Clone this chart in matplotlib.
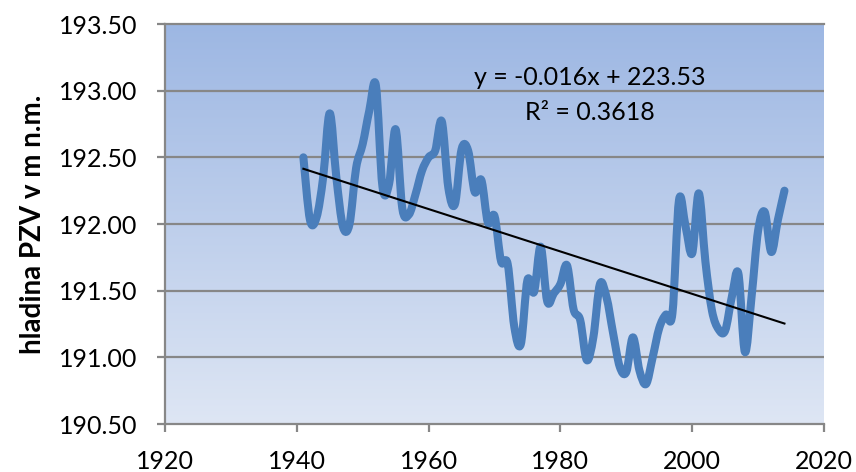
import numpy as np
import matplotlib
matplotlib.use("Agg")
import matplotlib.pyplot as plt
from matplotlib.path import Path
from matplotlib.patches import PathPatch
from matplotlib.colors import LinearSegmentedColormap

plt.rcParams['font.family'] = ['Lato', 'DejaVu Sans']

years = list(range(1941, 2015))
levels = [
    192.50, 192.03, 192.05, 192.35, 192.83, 192.35, 191.98, 192.00, 192.42, 192.60,
    192.85, 193.04, 192.28, 192.30, 192.71, 192.12, 192.07, 192.22, 192.40, 192.50,
    192.55, 192.77, 192.27, 192.15, 192.56, 192.55, 192.24, 192.33, 192.01, 192.06,
    191.72, 191.70, 191.23, 191.10, 191.58, 191.49, 191.83, 191.42, 191.48, 191.55,
    191.69, 191.36, 191.28, 190.98, 191.15, 191.55, 191.45, 191.18, 190.93, 190.89,
    191.15, 190.90, 190.80, 191.00, 191.22, 191.32, 191.33, 192.18, 191.98, 191.78,
    192.23, 191.72, 191.35, 191.21, 191.20, 191.45, 191.63, 191.04, 191.45, 191.95,
    192.09, 191.79, 192.03, 192.25,
]
x_ticks = [1920, 1940, 1960, 1980, 2000, 2020]
y_ticks = [190.5, 191.0, 191.5, 192.0, 192.5, 193.0, 193.5]
y_label = "hladina PZV v m n.m."
equation = "y = -0.016x + 223.53"
r2_text = "R² = 0.3618"

fig = plt.figure(figsize=(8.56, 4.72), dpi=100)
ax = fig.add_axes([165/856, 1-424/472, (824-165)/856, 400/472])
ax.set_xlim(1920, 2020)
ax.set_ylim(190.5, 193.5)

# gradient background
cmap = LinearSegmentedColormap.from_list("bg", ["#dee6f4", "#9db7e3"])
grad = np.linspace(0, 1, 256).reshape(-1, 1)
ax.imshow(grad, cmap=cmap, aspect='auto', extent=[1920, 2020, 190.5, 193.5],
          origin='lower', zorder=0)

grid_c = "#878787"
for yt in y_ticks[1:-1]:
    ax.axhline(yt, color=grid_c, lw=1.6, zorder=1)
for s in ['left', 'bottom', 'top']:
    ax.spines[s].set_color(grid_c)
    ax.spines[s].set_linewidth(1.6)
ax.spines['right'].set_visible(False)

# smoothed line (Excel-like Bezier through annual points)
xs = np.array(years, dtype=float)
ys = np.array(levels, dtype=float)
n = len(xs)
verts = [(xs[0], ys[0])]
codes = [Path.MOVETO]
for i in range(n - 1):
    p0 = np.array([xs[max(i-1, 0)], ys[max(i-1, 0)]])
    p1 = np.array([xs[i], ys[i]])
    p2 = np.array([xs[i+1], ys[i+1]])
    p3 = np.array([xs[min(i+2, n-1)], ys[min(i+2, n-1)]])
    c1 = p1 + (p2 - p0) / 6.0
    c2 = p2 - (p3 - p1) / 6.0
    verts += [tuple(c1), tuple(c2), tuple(p2)]
    codes += [Path.CURVE4] * 3
patch = PathPatch(Path(verts, codes), facecolor='none', edgecolor='#4a7ebb',
                  lw=5.8, capstyle='round', joinstyle='round', zorder=3)
ax.add_patch(patch)

# linear trendline
k, q = np.polyfit(xs, ys, 1)
tx = np.array([xs[0], xs[-1]])
ax.plot(tx, k * tx + q, color='black', lw=1.5, zorder=4)

ax.text(1984.5, 193.10, equation, ha='center', va='center', fontsize=18, zorder=5)
ax.text(1984.5, 192.84, r2_text, ha='center', va='center', fontsize=18, zorder=5)

ax.set_xticks(x_ticks)
ax.set_yticks(y_ticks)
ax.set_yticklabels([f"{v:.2f}" for v in y_ticks])
ax.tick_params(axis='both', direction='out', length=6, width=1.6, color=grid_c,
               labelsize=18)
ax.tick_params(axis='y', pad=14)
ax.tick_params(axis='x', pad=13)
ax.set_ylabel(y_label, fontsize=20, fontweight='bold')
ax.yaxis.set_label_coords(-0.181, 0.5)

fig.savefig("out.png", dpi=100)
